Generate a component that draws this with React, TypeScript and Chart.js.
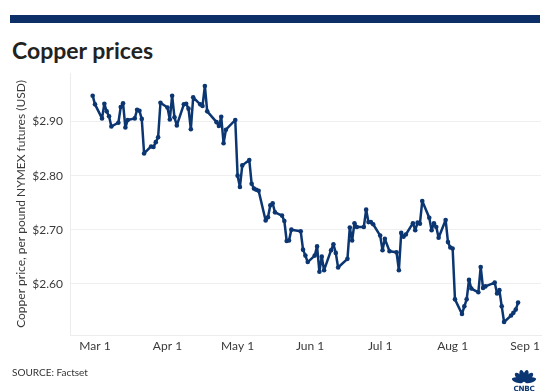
import React, { useEffect, useRef } from "react";
import { Chart, registerables } from "chart.js";

Chart.register(...registerables);

const dates = [
  "2019-02-28", "2019-03-01", "2019-03-04", "2019-03-05", "2019-03-06", "2019-03-07", "2019-03-08",
  "2019-03-11", "2019-03-12", "2019-03-13", "2019-03-14", "2019-03-15",
  "2019-03-18", "2019-03-19", "2019-03-20", "2019-03-21", "2019-03-22",
  "2019-03-25", "2019-03-26", "2019-03-27", "2019-03-28", "2019-03-29",
  "2019-04-01", "2019-04-02", "2019-04-03", "2019-04-04", "2019-04-05",
  "2019-04-08", "2019-04-09", "2019-04-10", "2019-04-11", "2019-04-12",
  "2019-04-15", "2019-04-16", "2019-04-17", "2019-04-18",
  "2019-04-22", "2019-04-23", "2019-04-24", "2019-04-25", "2019-04-26",
  "2019-04-30", "2019-05-01", "2019-05-02", "2019-05-03",
  "2019-05-06", "2019-05-07", "2019-05-08", "2019-05-09", "2019-05-10",
  "2019-05-13", "2019-05-14", "2019-05-15", "2019-05-16", "2019-05-17",
  "2019-05-20", "2019-05-21", "2019-05-22", "2019-05-23", "2019-05-24",
  "2019-05-28", "2019-05-29", "2019-05-30", "2019-05-31",
  "2019-06-03", "2019-06-04", "2019-06-05", "2019-06-06", "2019-06-07",
  "2019-06-10", "2019-06-11", "2019-06-12", "2019-06-13",
  "2019-06-17", "2019-06-18", "2019-06-19", "2019-06-20", "2019-06-21",
  "2019-06-24", "2019-06-25", "2019-06-26", "2019-06-27", "2019-06-28",
  "2019-07-01", "2019-07-02", "2019-07-03", "2019-07-05",
  "2019-07-08", "2019-07-09", "2019-07-10", "2019-07-11", "2019-07-12",
  "2019-07-15", "2019-07-16", "2019-07-17", "2019-07-18", "2019-07-19",
  "2019-07-22", "2019-07-23", "2019-07-24", "2019-07-25", "2019-07-26",
  "2019-07-29", "2019-07-30", "2019-07-31", "2019-08-01", "2019-08-02",
  "2019-08-05", "2019-08-06", "2019-08-07", "2019-08-08", "2019-08-09",
  "2019-08-12", "2019-08-13", "2019-08-14", "2019-08-15",
  "2019-08-19", "2019-08-20", "2019-08-21", "2019-08-22", "2019-08-23",
  "2019-08-26", "2019-08-27", "2019-08-28", "2019-08-29",
];

const prices = [
  2.948, 2.932, 2.906, 2.933, 2.919, 2.910, 2.891,
  2.898, 2.927, 2.934, 2.889, 2.903,
  2.906, 2.922, 2.920, 2.905, 2.841,
  2.854, 2.853, 2.862, 2.871, 2.935,
  2.926, 2.904, 2.948, 2.908, 2.893,
  2.932, 2.933, 2.924, 2.886, 2.945,
  2.932, 2.929, 2.966, 2.919,
  2.899, 2.892, 2.909, 2.860, 2.885,
  2.903, 2.800, 2.779, 2.819,
  2.829, 2.785, 2.776, 2.774, 2.772,
  2.717, 2.723, 2.745, 2.749, 2.732,
  2.726, 2.716, 2.679, 2.680, 2.700,
  2.697, 2.663, 2.652, 2.640,
  2.652, 2.669, 2.622, 2.650, 2.625,
  2.662, 2.673, 2.657, 2.630,
  2.646, 2.704, 2.680, 2.712, 2.705,
  2.705, 2.737, 2.714, 2.714, 2.710,
  2.689, 2.662, 2.683, 2.660,
  2.658, 2.625, 2.694, 2.687, 2.691,
  2.712, 2.699, 2.713, 2.711, 2.753,
  2.722, 2.699, 2.712, 2.705, 2.685,
  2.718, 2.677, 2.667, 2.665, 2.571,
  2.544, 2.558, 2.571, 2.607, 2.591,
  2.584, 2.631, 2.592, 2.595,
  2.602, 2.582, 2.588, 2.558, 2.529,
  2.541, 2.546, 2.552, 2.565,
];

const tickDates = ["2019-03-01", "2019-04-01", "2019-05-01", "2019-06-01", "2019-07-01", "2019-08-01", "2019-09-01"];
const tickLabels = ["Mar 1", "Apr 1", "May 1", "Jun 1", "Jul 1", "Aug 1", "Sep 1"];
const yTicks = [2.6, 2.7, 2.8, 2.9];

const title = "Copper prices";
const yTitle = "Copper price, per pound NYMEX futures (USD)";
const source = "SOURCE: Factset";

const ORIGIN = Date.UTC(2019, 2, 1);
const toDay = (s: string) => {
  const [y, m, d] = s.split("-").map(Number);
  return (Date.UTC(y, m - 1, d) - ORIGIN) / 86400000;
};

const NAVY = "#0b3672";
const FONT = "Lato, 'Open Sans', sans-serif";

function Logo() {
  const feathers = [-75, -45, -15, 15, 45, 75];
  return (
    <svg width="34" height="24" viewBox="0 0 34 24" style={{ position: "absolute", left: 507, top: 368 }}>
      {feathers.map((a, i) => (
        <ellipse key={i} cx={17} cy={7.5} rx={2.6} ry={6} fill={NAVY}
          transform={`rotate(${a} 17 14) `} />
      ))}
      <text x={17} y={23} textAnchor="middle" fontFamily="'DejaVu Sans', sans-serif" fontWeight={700}
        fontSize={7.2} fill={NAVY} letterSpacing={-0.2}>CNBC</text>
    </svg>
  );
}

export default function App() {
  const ref = useRef<HTMLCanvasElement | null>(null);
  useEffect(() => {
    if (!ref.current) return;
    const tickDays = tickDates.map(toDay);
    const data = dates.map((d, i) => ({ x: toDay(d), y: prices[i] }));
    const chart = new Chart(ref.current, {
      type: "line",
      data: {
        datasets: [
          {
            data,
            borderColor: NAVY,
            backgroundColor: NAVY,
            borderWidth: 2.5,
            borderJoinStyle: "round",
            borderCapStyle: "round",
            pointRadius: 2.3,
            pointBorderWidth: 0,
            pointBackgroundColor: NAVY,
            tension: 0,
          },
        ],
      },
      options: {
        animation: false,
        responsive: false,
        events: [],
        layout: { padding: { top: 73, right: 9, bottom: 27, left: 11 } },
        plugins: { legend: { display: false }, tooltip: { enabled: false } },
        scales: {
          x: {
            type: "linear",
            min: -10.7,
            max: 190.8,
            afterBuildTicks: (scale: any) => {
              scale.ticks = tickDays.map((v) => ({ value: v }));
            },
            afterFit: (scale: any) => {
              scale.height = 30;
            },
            grid: { display: false, drawTicks: false },
            border: { display: true, color: "#ececec", width: 1 },
            ticks: {
              autoSkip: false,
              maxRotation: 0,
              padding: 4,
              color: "#3a3a3a",
              font: { family: FONT, size: 12 },
              callback: (v: any) => {
                const i = tickDays.indexOf(Number(v));
                return i >= 0 ? tickLabels[i] : "";
              },
            },
          },
          y: {
            type: "linear",
            min: 2.505,
            max: 2.99,
            afterBuildTicks: (scale: any) => {
              scale.ticks = yTicks.map((v) => ({ value: v }));
            },
            afterFit: (scale: any) => {
              scale.width = 59;
            },
            grid: { color: "#efefef", drawTicks: false, lineWidth: 1 },
            border: { display: true, color: "#ececec", width: 1 },
            title: {
              display: true,
              text: yTitle,
              color: "#3a3a3a",
              font: { family: FONT, size: 12 },
              padding: { top: 3, bottom: 0 },
            },
            ticks: {
              padding: 7,
              color: "#3a3a3a",
              font: { family: FONT, size: 12 },
              callback: (v: any) => "$" + Number(v).toFixed(2),
            },
          },
        },
      },
    });
    return () => chart.destroy();
  }, []);

  return (
    <div style={{ position: "fixed", left: 0, top: 0, width: 550, height: 392, background: "#fff", overflow: "hidden" }}>
      <div style={{ position: "absolute", left: 10, top: 15, width: 530, height: 8, background: "#0c2f68" }} />
      <div style={{ position: "absolute", left: 12, top: 37, fontFamily: FONT, fontWeight: 700, fontSize: 23, lineHeight: "27px", color: "#222" }}>
        {title}
      </div>
      <canvas ref={ref} width={550} height={392} style={{ position: "absolute", left: 0, top: 0 }} />
      <div style={{ position: "absolute", left: 12, top: 366, fontFamily: FONT, fontSize: 10, lineHeight: "12px", color: "#333" }}>
        {source}
      </div>
      <Logo />
    </div>
  );
}
